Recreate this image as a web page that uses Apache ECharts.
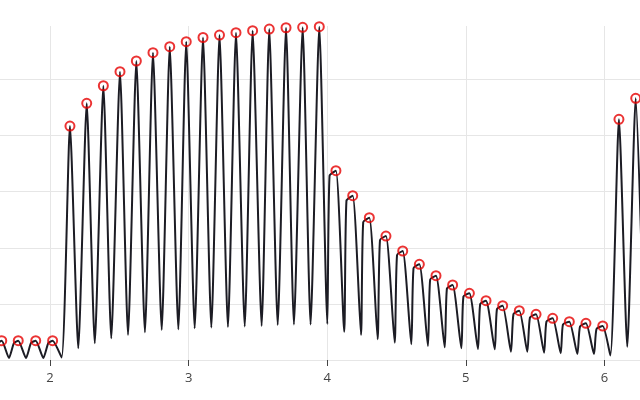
<!DOCTYPE html>
<html><head><meta charset="utf-8">
<script src="https://cdn.jsdelivr.net/npm/echarts@6/dist/echarts.min.js"></script>
<style>html,body{margin:0;padding:0;background:#fff}#c{width:640px;height:400px}</style>
</head><body><div id="c"></div>
<script>
// Peaks (marked with red circles)
const peakX = [1.652,1.771,1.897,2.019,
  2.144,2.265,2.385,2.505,2.623,2.743,2.864,2.983,3.104,3.223,3.342,3.462,3.582,3.703,3.823,3.943,
  4.063,4.184,4.304,4.424,4.545,4.665,4.785,4.905,5.026,5.146,5.266,5.386,5.507,5.627,5.747,5.867,5.988,
  6.105,6.226];
const peakY = [0.344,0.344,0.344,0.344,
  4.171,4.576,4.889,5.139,5.330,5.478,5.585,5.674,5.749,5.793,5.834,5.870,5.900,5.923,5.930,5.941,
  3.374,2.929,2.537,2.210,1.943,1.706,1.503,1.337,1.189,1.057,0.968,0.879,0.815,0.743,0.683,0.654,0.606,
  4.291,4.665];
// Troughs (one before each peak, plus the last one)
const troughX = [1.589,1.704,1.827,1.952,
  2.084,2.204,2.323,2.442,2.563,2.685,2.806,2.926,3.044,3.164,3.284,3.405,3.527,3.643,3.760,3.880,
  4.001,4.123,4.244,4.364,4.487,4.607,4.727,4.848,4.968,5.088,5.209,5.326,5.444,5.565,5.685,5.805,5.925,
  6.043,6.165,
  6.287];
const troughY = [0.036,0.036,0.036,0.036,
  0.045,0.209,0.298,0.387,0.446,0.494,0.535,0.547,0.565,0.579,0.588,0.597,0.606,0.624,0.633,0.633,
  0.642,0.504,0.446,0.369,0.308,0.280,0.250,0.226,0.209,0.196,0.191,0.148,0.148,0.130,0.119,0.107,0.107,
  0.080,0.237,
  0.303];
// Shoulder (knee) before each peak, null where the rise goes straight to the peak
const N = null;
const kneeX = [1.625,1.740,1.863,1.988,
  N,N,N,N,N,N,N,N,N,N,N,N,N,N,N,N,
  4.017,4.139,4.260,4.381,4.504,4.623,4.743,4.864,4.983,5.104,5.225,5.344,5.463,5.582,5.701,5.824,5.943,
  N,N];
const kneeY = [0.303,0.303,0.303,0.303,
  N,N,N,N,N,N,N,N,N,N,N,N,N,N,N,N,
  3.285,2.840,2.460,2.139,1.872,1.640,1.435,1.275,1.132,0.998,0.909,0.820,0.758,0.686,0.633,0.597,0.553,
  N,N];
const xTicks = [2,3,4,5,6];

const wave = [];
for (let i = 0; i < peakX.length; i++) {
  wave.push([troughX[i], troughY[i]]);
  if (kneeX[i] !== null) wave.push([kneeX[i], kneeY[i]]);
  wave.push([peakX[i], peakY[i]]);
}
wave.push([troughX[peakX.length], troughY[peakX.length]]);
const peaks = peakX.map((x, i) => [x, peakY[i]]);

const chart = echarts.init(document.getElementById('c'), null, {renderer: 'canvas'});
chart.setOption({
  animation: false,
  backgroundColor: '#ffffff',
  grid: {left: 0, right: 0, top: 26, bottom: 40, containLabel: false, outerBoundsMode: 'none'},
  xAxis: {
    type: 'value', min: 1.6393, max: 6.2569, minInterval: 1, maxInterval: 1,
    axisLine: {show: false},
    axisTick: {show: true, length: 6, inside: false, lineStyle: {color: '#444', width: 1}, customValues: xTicks},
    axisLabel: {color: '#444', fontSize: 13, fontFamily: 'Open Sans, sans-serif', margin: 12, customValues: xTicks},
    splitLine: {show: true, lineStyle: {color: '#e6e6e6', width: 1}}
  },
  yAxis: {
    type: 'value', min: 0, max: 5.954, minInterval: 1, maxInterval: 1,
    axisLine: {show: false}, axisTick: {show: false}, axisLabel: {show: false},
    splitLine: {show: true, showMaxLine: false, lineStyle: {color: '#e6e6e6', width: 1}}
  },
  series: [
    {type: 'line', data: wave, showSymbol: false, smooth: 0.2, clip: true,
     lineStyle: {color: '#1c1c24', width: 2}, z: 2},
    {type: 'scatter', data: peaks, symbol: 'circle', symbolSize: 9, clip: false,
     itemStyle: {color: 'rgba(0,0,0,0)', borderColor: '#e60000', borderWidth: 2}, z: 3}
  ]
});
</script></body></html>
